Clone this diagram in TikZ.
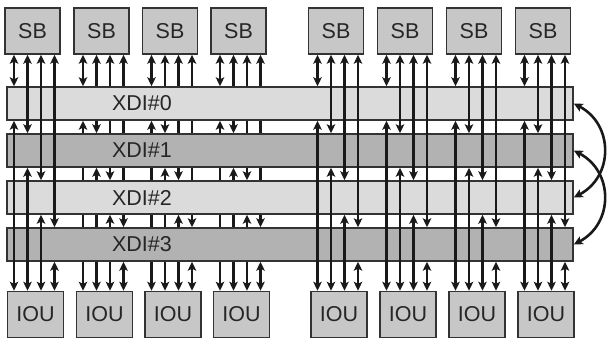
\documentclass[tikz,border=0pt]{standalone}
\usepackage{fontspec}
\setmainfont{Liberation Sans}
\usetikzlibrary{arrows.meta}
\pgfdeclarelayer{back}
\pgfsetlayers{back,main}

% wires of one SB/IOU column: wire k joins SB and IOU to XDI#k
\newcommand\drawwires[1]{%
  \foreach \i in {#1} {
    \foreach \o [count=\k from 0] in {-18.5,-5,8.5,22} {
      \coordinate (w) at ([xshift=\o pt]sb\i.south);
      \draw[wire] (w) -- (w |- x\k.north);
      \draw[wire] (w |- x\k.south) -- (w |- iou\i.north);
    }
  }}

\begin{document}
\begin{tikzpicture}[
  x=1pt, y=-1pt,
  font=\fontsize{21.5}{24}\selectfont,
  unit/.style={draw=black!80, line width=1.5pt, fill=black!22, text=black!85,
    minimum width=55pt, minimum height=46pt, inner sep=0pt},
  bar/.style={draw=black!80, line width=1.5pt, minimum width=566pt,
    minimum height=33pt, inner sep=0pt},
  wire/.style={line width=2.6pt, black!90,
    {Stealth[length=9pt,width=8.5pt,inset=2pt]}-{Stealth[length=9pt,width=8.5pt,inset=2pt]}}
]
  \useasboundingbox (0,0) rectangle (607,339);

  % SB on top, IOU below
  \foreach \c [count=\i] in {32.5,101.5,170,238.5,336,405,474,543} {
    \node[unit] (sb\i) at (\c,31) {SB};
    \node[unit, minimum width=56pt] (iou\i) at (\c+3,314.5) {IOU};
  }

  % XDI bars
  \node[bar, fill=black!14] (x0) at (290,103.5) {};
  \node[bar, fill=black!30] (x1) at (290,150.5) {};
  \node[bar, fill=black!14] (x2) at (290,197.5) {};
  \node[bar, fill=black!30] (x3) at (290,244.5) {};
  \foreach \k in {0,...,3}
    \node[text=black!85] (t\k) at (142,103.5+47*\k) {XDI\#\k};

  % middle columns run behind the bars
  \begin{pgfonlayer}{back}
    \drawwires{2,3,4}
  \end{pgfonlayer}
  \drawwires{1,5,6,7,8}

  % links between the bars
  \draw[wire] (x0.east) .. controls +(40,21) and +(40,-21) .. (x2.east);
  \draw[wire] (x1.east) .. controls +(40,21) and +(40,-21) .. (x3.east);
\end{tikzpicture}
\end{document}
